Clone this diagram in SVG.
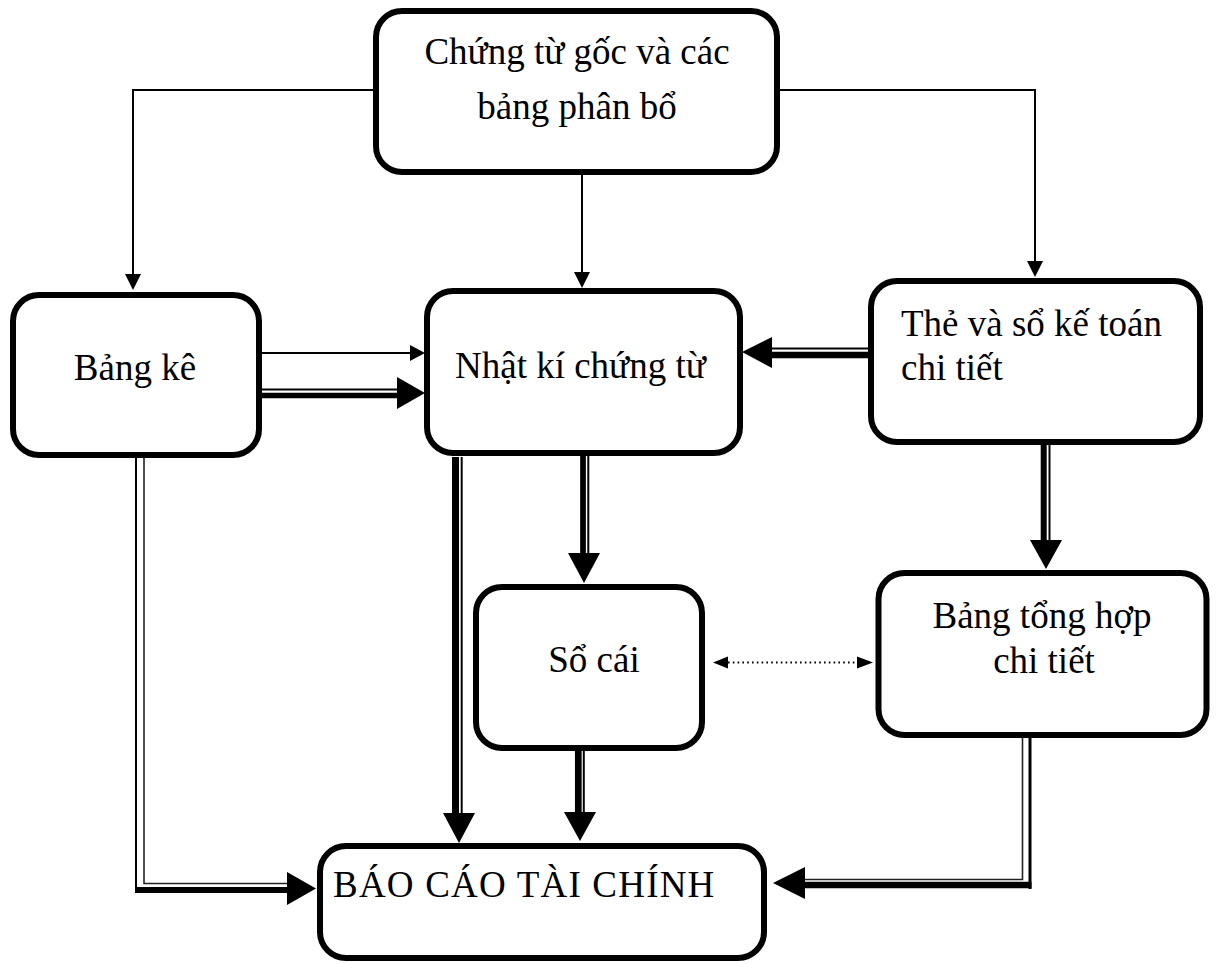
<svg xmlns="http://www.w3.org/2000/svg" width="1216" height="964" viewBox="0 0 1216 964">
<style>
.box{fill:#fff;stroke:#000;stroke-width:6}
.t{font-family:"Liberation Serif","Times New Roman",serif;font-size:37px;fill:#000}
.c{text-anchor:middle}
.thin{fill:none;stroke:#000;stroke-width:2}
.hair{fill:none;stroke:#222;stroke-width:1.6}
.ah{fill:#000;stroke:none}
.dot{fill:none;stroke:#000;stroke-width:2;stroke-dasharray:1.6 3.2}
</style>
<rect width="1216" height="964" fill="#fff"/>
<g id="connectors">
  <path class="thin" d="M376,90 H133 V276"/>
  <polygon class="ah" points="125,274 141,274 133,290"/>
  <path class="thin" d="M777,90 H1035 V262"/>
  <polygon class="ah" points="1027,261 1043,261 1035,277"/>
  <path class="thin" d="M582,172 V274"/>
  <polygon class="ah" points="574,272 590,272 582,288"/>
  <path class="thin" d="M260,353 H412"/>
  <polygon class="ah" points="410,345 410,361 425,353"/>

  <line x1="262" y1="389.5" x2="400" y2="389.5" stroke="#000" stroke-width="2"/>
  <line x1="262" y1="395.5" x2="400" y2="395.5" stroke="#000" stroke-width="5.5"/>
  <polygon class="ah" points="397,377 397,409 425,393"/>

  <line x1="770" y1="348.5" x2="869" y2="348.5" stroke="#000" stroke-width="2"/>
  <line x1="770" y1="355" x2="869" y2="355" stroke="#000" stroke-width="6.5"/>
  <polygon class="ah" points="772,337 772,368 742,352"/>

  <path class="thin" d="M136,458 V893"/>
  <path class="hair" d="M144,458 V883.5 H292"/>
  <line x1="135" y1="890" x2="292" y2="890" stroke="#000" stroke-width="6"/>
  <polygon class="ah" points="287,872 287,905 316,888.5"/>

  <line x1="455.5" y1="457" x2="455.5" y2="816" stroke="#000" stroke-width="7"/>
  <line x1="461.7" y1="457" x2="461.7" y2="816" stroke="#000" stroke-width="2"/>
  <polygon class="ah" points="443,813 475,813 459,843"/>

  <line x1="583" y1="456" x2="583" y2="556" stroke="#000" stroke-width="5.7"/>
  <line x1="588.3" y1="456" x2="588.3" y2="556" stroke="#000" stroke-width="2"/>
  <polygon class="ah" points="568,553 600,553 584,583"/>

  <line x1="578.3" y1="750" x2="578.3" y2="815" stroke="#000" stroke-width="6.7"/>
  <line x1="583.8" y1="750" x2="583.8" y2="815" stroke="#000" stroke-width="2"/>
  <polygon class="ah" points="564,812 596,812 580,841"/>

  <line x1="1043.7" y1="445" x2="1043.7" y2="543" stroke="#000" stroke-width="6"/>
  <line x1="1049.5" y1="445" x2="1049.5" y2="543" stroke="#000" stroke-width="2"/>
  <polygon class="ah" points="1030,540 1062,540 1046,569"/>

  <path class="hair" d="M1022.5,737 V879.5 H800"/>
  <path fill="none" stroke="#000" stroke-width="3" d="M1030,737 V889"/>
  <line x1="1031.5" y1="885" x2="800" y2="885" stroke="#000" stroke-width="6.7"/>
  <polygon class="ah" points="805,867 805,899 773,883"/>

  <line class="dot" x1="728" y1="662.5" x2="857" y2="662.5"/>
  <polygon class="ah" points="713,662.5 728,656.5 728,668.5"/>
  <polygon class="ah" points="873,662.5 857,656.5 857,668.5"/>
</g>
<g id="node-chungtu">
  <rect class="box" x="376" y="11" width="401" height="161" rx="26"/>
  <text class="t c" x="577" y="64">Chứng từ gốc và các</text>
  <text class="t c" x="577" y="119">bảng phân bổ</text>
</g>
<g id="node-bangke">
  <rect class="box" x="13" y="295" width="246" height="160" rx="26"/>
  <text class="t c" x="135" y="380">Bảng kê</text>
</g>
<g id="node-nhatki">
  <rect class="box" x="427" y="291" width="313" height="162" rx="26"/>
  <text class="t" x="455" y="378">Nhật kí chứng từ</text>
</g>
<g id="node-the">
  <rect class="box" x="871" y="281" width="329" height="161" rx="26"/>
  <text class="t" x="901" y="336">Thẻ và sổ kế toán</text>
  <text class="t" x="901" y="380">chi tiết</text>
</g>
<g id="node-socai">
  <rect class="box" x="476" y="587" width="226" height="161" rx="26"/>
  <text class="t c" x="594" y="672">Sổ cái</text>
</g>
<g id="node-tonghop">
  <rect class="box" x="878.5" y="573" width="328" height="162" rx="26"/>
  <text class="t c" x="1042" y="628">Bảng tổng hợp</text>
  <text class="t c" x="1044" y="673">chi tiết</text>
</g>
<g id="node-baocao">
  <rect class="box" x="320" y="846" width="444" height="112" rx="26"/>
  <text class="t" x="333" y="897" letter-spacing="1.2">BÁO CÁO TÀI CHÍNH</text>
</g>
</svg>
